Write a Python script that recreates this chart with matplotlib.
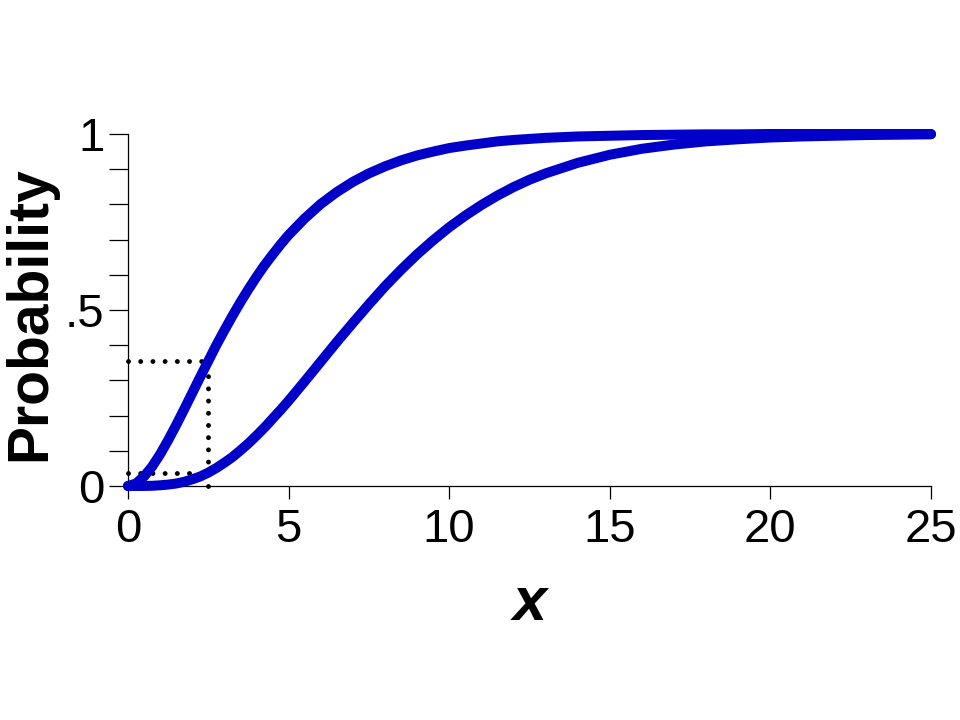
import matplotlib
matplotlib.use("Agg")
import matplotlib.pyplot as plt
from matplotlib.ticker import MultipleLocator

plt.rcParams['font.family'] = ['Liberation Sans', 'DejaVu Sans']

# values
x = [0, 0.25, 0.5, 0.75, 1, 1.25, 1.5, 1.75, 2, 2.25, 2.5, 2.75, 3, 3.25, 3.5,
     3.75, 4, 4.25, 4.5, 4.75, 5, 5.5, 6, 6.5, 7, 7.5, 8, 8.5, 9, 9.5, 10,
     10.5, 11, 11.5, 12, 12.5, 13, 14, 15, 16, 17, 18, 19, 20, 21, 22, 23,
     24, 25]
p_fast = [0, 0.007, 0.027, 0.055, 0.090, 0.130, 0.173, 0.218, 0.264, 0.310,
          0.355, 0.400, 0.442, 0.483, 0.522, 0.559, 0.594, 0.627, 0.657, 0.686,
          0.713, 0.760, 0.801, 0.835, 0.864, 0.888, 0.908, 0.925, 0.939, 0.950,
          0.960, 0.967, 0.973, 0.979, 0.983, 0.986, 0.989, 0.993, 0.995, 0.997,
          0.998, 0.999, 0.999, 1.0, 1.0, 1.0, 1.0, 1.0, 1.0]
p_slow = [0, 0.0, 0.0001, 0.0006, 0.002, 0.004, 0.007, 0.012, 0.019, 0.027,
          0.038, 0.051, 0.066, 0.082, 0.101, 0.121, 0.143, 0.166, 0.191, 0.216,
          0.242, 0.297, 0.353, 0.409, 0.463, 0.516, 0.567, 0.614, 0.658, 0.698,
          0.735, 0.768, 0.798, 0.825, 0.849, 0.870, 0.888, 0.918, 0.941, 0.958,
          0.970, 0.979, 0.985, 0.990, 0.993, 0.995, 0.997, 0.998, 0.999]

x_mark = 2.5
p_mark_fast = 0.355
p_mark_slow = 0.038

blue = '#0000c8'

fig = plt.figure(figsize=(9.6, 7.2), dpi=100)
ax = fig.add_axes([0.1333, 0.325, 0.8365, 0.4889])

dots = dict(color='black', lw=3.5, linestyle=(0, (0.01, 2.5)),
            dash_capstyle='round', clip_on=False, zorder=3)
ax.plot([0, x_mark], [p_mark_fast, p_mark_fast], **dots)
ax.plot([0, x_mark], [p_mark_slow, p_mark_slow], **dots)
ax.plot([x_mark, x_mark], [0, p_mark_fast], **dots)

for p in (p_fast, p_slow):
    ax.plot(x, p, color=blue, lw=7.2, solid_capstyle='round',
            solid_joinstyle='round', clip_on=False, zorder=4)

ax.set_xlim(0, 25)
ax.set_ylim(0, 1)
ax.set_xticks([0, 5, 10, 15, 20, 25])
ax.set_yticks([0, 0.5, 1])
ax.set_yticklabels(['0', '.5', '1'])
ax.yaxis.set_minor_locator(MultipleLocator(0.1))

for s in ('top', 'right'):
    ax.spines[s].set_visible(False)
for s in ('left', 'bottom'):
    ax.spines[s].set_linewidth(0.9)

ax.tick_params(axis='x', direction='out', length=9.5, width=0.9,
               labelsize=34, pad=6)
ax.tick_params(axis='y', which='both', direction='out', length=14,
               width=0.9, labelsize=34, pad=3)

ax.set_xlabel('x', fontsize=44, fontweight='bold', style='italic')
ax.xaxis.set_label_coords(0.5, -0.255)
ax.set_ylabel('Probability', fontsize=41, fontweight='bold')
ax.yaxis.set_label_coords(-0.088, 0.49)

fig.savefig('out.png', dpi=100)
